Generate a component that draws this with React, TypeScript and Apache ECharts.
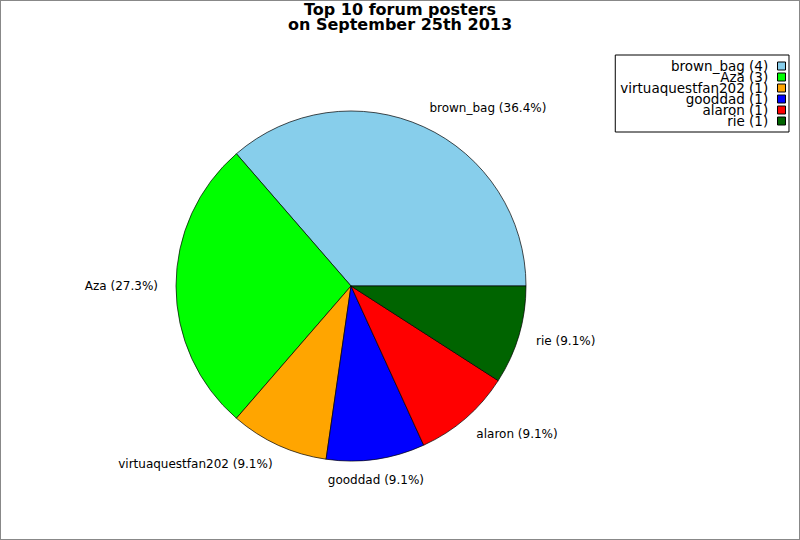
import { useEffect, useRef } from "react";
import * as echarts from "echarts";

const posters = ["brown_bag", "Aza", "virtuaquestfan202", "gooddad", "alaron", "rie"];
const postCounts = [4, 3, 1, 1, 1, 1];
const sliceColors = ["#87CEEB", "#00FF00", "#FFA500", "#0000FF", "#FF0000", "#006400"];

const FONT = "DejaVu Sans";

function buildOption(): echarts.EChartsOption {
  const total = postCounts.reduce((s, v) => s + v, 0);

  // mid angle of every slice (counter-clockwise from 3 o'clock), used to center bottom labels
  const midAngles: number[] = [];
  let acc = 0;
  postCounts.forEach((v) => {
    midAngles.push(((acc + v / 2) / total) * 360);
    acc += v;
  });

  return {
    animation: false,
    backgroundColor: "#fff",
    title: {
      text: "Top 10 forum posters\non September 25th 2013",
      left: "center",
      top: -4,
      textStyle: {
        fontFamily: FONT,
        fontSize: 16,
        fontWeight: "bold",
        color: "#000",
        lineHeight: 15,
      },
    },
    legend: {
      orient: "vertical",
      right: 10,
      top: 54,
      align: "right",
      itemWidth: 8,
      itemHeight: 8,
      itemGap: -3,
      padding: [4, 3, 4, 5],
      borderColor: "#000",
      borderWidth: 1,
      icon: "rect",
      itemStyle: { borderColor: "#000", borderWidth: 1 },
      textStyle: { fontFamily: FONT, fontSize: 13.5, color: "#000", lineHeight: 11 },
      formatter: (name: string) => {
        const i = posters.indexOf(name);
        return `${name} (${postCounts[i]}) `;
      },
      data: posters,
    },
    series: [
      {
        type: "pie",
        center: [350, 285],
        radius: 175,
        startAngle: 0,
        clockwise: false,
        avoidLabelOverlap: false,
        itemStyle: { borderColor: "#000", borderWidth: 0.7 },
        label: {
          show: true,
          position: "outside",
          fontFamily: FONT,
          fontSize: 12,
          color: "#000",
          distanceToLabelLine: -3,
          formatter: (p: any) => `${p.name} (${((p.value / total) * 100).toFixed(1)}%)`,
        },
        labelLine: { show: false, length: 21, length2: 0 },
        labelLayout: (p: any) => {
          const a = (midAngles[p.dataIndex] * Math.PI) / 180;
          if (Math.abs(Math.cos(a)) < 0.25) {
            return { dx: Math.cos(a) >= 0 ? -p.labelRect.width / 2 : p.labelRect.width / 2 };
          }
          return {};
        },
        emphasis: { disabled: true },
        data: posters.map((name, i) => ({
          name,
          value: postCounts[i],
          itemStyle: { color: sliceColors[i] },
        })),
      },
    ],
  };
}

export default function App() {
  const chartRef = useRef<HTMLDivElement>(null);

  useEffect(() => {
    document.body.style.margin = "0";
    if (!chartRef.current) return;
    const chart = echarts.init(chartRef.current, undefined, { renderer: "svg" });
    chart.setOption(buildOption());
    return () => chart.dispose();
  }, []);

  return (
    <div
      ref={chartRef}
      style={{ width: 800, height: 540, boxSizing: "border-box", border: "1px solid #888" }}
    />
  );
}
